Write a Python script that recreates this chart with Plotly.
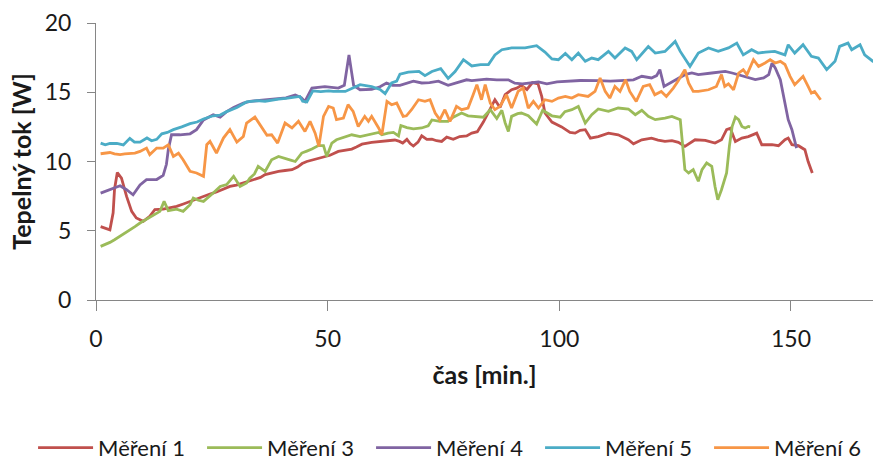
import plotly.graph_objects as go

# Heat flow measurements (time in minutes, heat flow in W)
names = ["Měření 1", "Měření 3", "Měření 4", "Měření 5", "Měření 6"]
colors = ["#C0504D", "#9BBB59", "#8064A2", "#4BACC6", "#F79646"]

t1 = [1.0, 2.0, 3.0, 3.7, 4.0, 4.6, 5.5, 6.6, 7.7, 8.7, 10.2, 11.6, 12.7, 14.5, 16.0, 17.4, 19.0, 20.3, 21.8, 23.2,
      24.6, 26.0, 27.5, 28.9, 30.3, 31.8, 33.2, 34.4, 35.5, 36.5, 38.0, 39.4, 40.8, 42.3, 43.5, 44.5, 45.5, 46.9, 48.0,
      49.8, 50.5, 52.3, 54.1, 55.2, 56.2, 57.4, 59.5, 61.3, 62.4, 64.5, 65.5, 66.2, 67.1, 67.8, 68.5, 69.5, 70.3, 71.4,
      72.5, 73.5, 74.6, 75.7, 77.1, 78.5, 80.0, 81.1, 82.3, 83.6, 85.0, 86.1, 87.2, 88.3, 89.7, 90.8, 91.8, 93.0, 94.2,
      95.4, 96.2, 96.9, 98.4, 100.5, 102.3, 103.4, 104.5, 105.6, 106.7, 108.4, 110.6, 112.7, 114.9, 116.0, 117.8,
      119.9, 121.3, 122.8, 124.3, 125.7, 127.1, 128.2, 129.3, 131.5, 133.6, 135.0, 136.1, 136.9, 138.0, 139.4, 140.8,
      142.6, 143.7, 145.9, 147.3, 148.7, 149.4, 150.2, 151.6, 153.0, 153.7, 154.6]
heat1 = [5.3, 5.2, 5.07, 6.3, 8.0, 9.2, 8.8, 7.48, 6.4, 5.92, 5.68, 6.04, 6.52, 6.56, 6.65, 6.76, 6.95, 7.12, 7.3, 7.48,
         7.65, 7.8, 8.0, 8.2, 8.3, 8.45, 8.6, 8.7, 8.85, 9.05, 9.2, 9.29, 9.35, 9.41, 9.6, 9.85, 10.0, 10.13, 10.25,
         10.37, 10.45, 10.73, 10.85, 10.9, 11.05, 11.25, 11.38, 11.45, 11.52, 11.55, 11.45, 11.33, 11.6, 11.3, 11.12,
         11.4, 11.86, 11.6, 11.62, 11.5, 11.45, 11.76, 11.6, 11.8, 11.85, 12.05, 12.15, 12.85, 13.74, 14.46, 13.9,
         14.82, 15.18, 15.3, 15.5, 15.2, 15.7, 15.6, 14.7, 13.5, 12.85, 12.5, 12.1, 12.05, 12.25, 12.3, 11.69, 11.8,
         12.05, 11.93, 11.57, 11.28, 11.57, 11.69, 11.55, 11.45, 11.5, 11.38, 11.09, 11.3, 11.57, 11.52, 11.33, 11.57,
         12.3, 12.4, 11.45, 11.69, 11.8, 12.05, 11.21, 11.21, 11.14, 11.57, 11.69, 11.21, 11.14, 10.85, 10.0, 9.17]

t3 = [1.0, 2.0, 3.0, 4.0, 5.2, 6.2, 7.3, 8.4, 9.5, 10.5, 11.6, 12.7, 13.8, 14.7, 15.6, 16.5, 17.4, 18.8, 20.3, 21.0,
      22.1, 23.2, 24.3, 25.3, 26.8, 28.2, 29.7, 31.1, 32.5, 33.2, 34.2, 35.0, 36.5, 37.9, 39.4, 40.8, 42.0, 43.0, 44.4,
      45.5, 46.6, 48.0, 49.1, 49.8, 50.9, 51.9, 53.1, 55.2, 57.0, 58.8, 61.0, 61.7, 63.0, 64.2, 65.3, 65.8, 67.1, 68.5,
      70.3, 71.7, 72.5, 74.2, 76.0, 77.1, 78.9, 80.3, 81.5, 83.6, 85.1, 86.5, 87.6, 88.3, 89.0, 89.7, 91.0, 91.8, 93.3,
      95.1, 96.4, 98.4, 100.2, 101.2, 102.7, 104.1, 105.6, 107.0, 108.4, 110.6, 112.7, 114.9, 116.4, 117.8, 119.2,
      120.7, 122.8, 124.3, 126.1, 126.6, 127.1, 127.9, 128.9, 130.0, 130.8, 131.8, 132.9, 133.6, 134.2, 135.0, 136.1,
      136.7, 137.3, 138.0, 138.7, 139.4, 140.1, 140.8, 141.2]
heat3 = [3.87, 4.0, 4.16, 4.35, 4.6, 4.85, 5.07, 5.3, 5.56, 5.75, 5.92, 6.15, 6.4, 7.12, 6.45, 6.5, 6.56, 6.4, 6.88,
         7.36, 7.2, 7.12, 7.4, 7.72, 8.2, 8.33, 8.93, 8.2, 8.45, 8.8, 9.1, 9.65, 9.29, 10.13, 10.37, 10.25, 10.1, 10.0,
         10.61, 10.75, 10.9, 11.15, 11.14, 10.37, 11.33, 11.57, 11.69, 11.93, 11.8, 11.93, 12.1, 11.93, 12.05, 12.1,
         11.85, 12.6, 12.45, 12.35, 12.42, 12.58, 13.0, 12.9, 12.9, 13.2, 13.5, 13.3, 13.26, 13.2, 13.74, 13.1, 13.7,
         12.8, 12.17, 13.26, 13.45, 13.5, 13.3, 12.7, 13.7, 13.3, 13.2, 13.6, 13.74, 13.98, 12.78, 13.38, 13.79, 13.62,
         13.86, 13.79, 13.38, 13.7, 13.26, 13.02, 13.14, 13.26, 13.02, 11.09, 9.41, 9.17, 9.41, 8.57, 9.41, 9.89, 9.65,
         8.2, 7.24, 7.96, 9.17, 11.09, 12.53, 13.21, 13.02, 12.53, 12.42, 12.53, 12.5]

t4 = [1.0, 2.0, 3.0, 4.0, 5.2, 6.6, 8.0, 9.5, 10.9, 13.1, 14.5, 15.2, 15.6, 16.3, 18.1, 20.3, 21.7, 23.2, 25.3, 26.8,
      28.2, 29.7, 31.8, 33.2, 35.0, 37.0, 39.4, 41.0, 43.0, 44.3, 45.1, 46.6, 49.4, 52.3, 53.6, 54.1, 54.6, 55.1, 55.6,
      57.0, 59.5, 61.3, 62.7, 64.0, 65.6, 68.5, 70.3, 72.0, 73.9, 76.0, 78.0, 80.0, 81.1, 84.3, 86.5, 89.0, 90.4, 92.0,
      95.5, 97.3, 99.5, 102.3, 104.5, 108.4, 111.0, 114.2, 116.0, 117.8, 119.9, 121.0, 121.7, 122.6, 124.0, 125.0,
      127.1, 128.6, 130.0, 132.9, 135.8, 137.3, 140.1, 142.3, 144.1, 145.2, 145.9, 146.6, 147.7, 148.7, 149.4, 150.2,
      151.2]
heat4 = [7.72, 7.85, 7.96, 8.1, 8.25, 7.96, 7.6, 8.3, 8.69, 8.7, 9.0, 9.8, 10.85, 11.93, 11.93, 12.0, 12.3, 13.0,
         13.38, 13.2, 13.6, 13.9, 14.22, 14.34, 14.4, 14.45, 14.5, 14.6, 14.8, 14.6, 14.34, 15.3, 15.4, 15.3, 15.5,
         16.6, 17.7, 16.6, 15.5, 15.18, 15.2, 15.4, 15.67, 15.5, 15.5, 15.8, 15.67, 15.7, 15.8, 15.5, 15.7, 15.9, 15.84,
         15.95, 15.9, 15.9, 15.65, 15.6, 15.74, 15.6, 15.75, 15.8, 15.85, 15.84, 15.8, 15.86, 15.9, 16.15, 16.03, 16.2,
         16.63, 15.42, 15.7, 15.9, 16.27, 16.39, 16.27, 16.39, 16.5, 16.39, 16.15, 15.91, 16.03, 16.27, 17.11, 16.75,
         15.91, 14.22, 13.02, 12.3, 10.97]

t5 = [1.0, 2.0, 3.0, 4.5, 5.9, 7.3, 8.3, 9.5, 11.0, 12.0, 13.1, 14.2, 15.4, 16.7, 18.5, 20.3, 21.8, 23.2, 25.3, 26.8,
      28.2, 30.4, 32.5, 34.7, 36.5, 38.0, 39.4, 41.0, 42.5, 44.0, 44.6, 45.5, 46.8, 48.5, 50.2, 51.2, 53.8, 55.5, 57.0,
      59.5, 61.3, 62.4, 63.8, 64.9, 65.6, 67.4, 69.7, 71.0, 72.5, 74.4, 76.0, 77.5, 79.3, 81.1, 83.0, 84.7, 86.1, 87.6,
      89.7, 92.6, 95.1, 96.9, 98.4, 99.8, 101.3, 102.7, 104.1, 105.6, 107.0, 108.4, 110.6, 112.0, 114.2, 115.6, 116.7,
      119.2, 120.7, 122.8, 125.0, 126.1, 128.2, 130.0, 132.2, 134.3, 136.5, 138.3, 139.7, 141.5, 142.9, 144.5, 146.5,
      148.7, 149.4, 150.8, 152.6, 154.4, 155.9, 157.7, 159.5, 160.5, 162.3, 163.1, 164.9, 165.9, 167.7, 169.0]
heat5 = [11.33, 11.2, 11.3, 11.3, 11.2, 11.67, 11.4, 11.4, 11.7, 11.5, 11.6, 12.0, 12.1, 12.3, 12.5, 12.73, 12.85,
         13.07, 13.3, 13.35, 13.6, 13.9, 14.3, 14.39, 14.35, 14.45, 14.5, 14.55, 14.6, 14.7, 14.35, 14.3, 15.1, 15.05,
         15.1, 15.06, 15.06, 15.3, 15.55, 15.4, 15.2, 14.9, 15.67, 15.8, 16.3, 16.45, 16.5, 16.2, 16.5, 16.7, 16.0,
         16.5, 17.35, 16.9, 17.0, 17.0, 17.7, 18.07, 18.2, 18.2, 18.36, 17.9, 17.4, 17.35, 17.8, 17.35, 17.83, 17.23,
         17.47, 17.35, 17.95, 17.47, 18.2, 17.95, 17.35, 18.3, 17.83, 17.95, 18.67, 17.95, 16.87, 17.83, 18.2, 17.95,
         18.2, 18.55, 17.7, 18.07, 17.83, 17.9, 17.95, 17.7, 18.43, 17.83, 18.43, 17.6, 17.47, 16.63, 17.23, 18.31,
         18.55, 18.07, 18.43, 17.7, 17.23, 17.1]

t6 = [1.0, 2.0, 3.0, 4.0, 5.2, 6.2, 7.3, 8.4, 9.5, 10.9, 11.6, 13.1, 14.5, 15.6, 16.7, 17.8, 18.8, 20.3, 21.7, 23.2,
      23.9, 24.6, 26.0, 27.5, 28.9, 30.4, 31.8, 32.5, 34.3, 35.8, 36.9, 37.9, 39.2, 40.8, 42.3, 43.7, 45.1, 46.2, 47.3,
      48.1, 49.1, 50.2, 51.2, 51.9, 53.4, 54.4, 55.5, 56.6, 58.0, 58.8, 59.5, 61.0, 61.7, 62.8, 63.8, 64.9, 66.3, 67.0,
      68.1, 69.6, 71.0, 72.1, 73.2, 74.2, 75.3, 76.4, 77.8, 78.9, 80.3, 81.4, 82.2, 83.2, 84.0, 85.1, 86.1, 87.2, 88.6,
      89.7, 91.1, 92.2, 93.3, 94.4, 95.5, 96.9, 98.4, 99.8, 101.3, 102.7, 104.1, 106.2, 107.7, 108.8, 109.9, 110.9,
      112.0, 113.1, 114.3, 115.2, 116.6, 118.1, 119.5, 120.6, 122.0, 123.1, 124.6, 125.6, 126.5, 127.1, 127.9, 128.9,
      130.0, 132.2, 133.9, 135.0, 135.7, 136.5, 137.6, 138.7, 139.7, 140.5, 141.9, 143.0, 144.4, 145.5, 146.6, 147.7,
      148.7, 149.8, 150.8, 151.9, 152.6, 153.7, 154.4, 155.1, 155.9, 156.4]
heat6 = [10.56, 10.6, 10.65, 10.55, 10.5, 10.55, 10.56, 10.6, 10.73, 10.97, 10.5, 10.97, 10.97, 11.21, 10.37, 10.6,
         10.13, 9.29, 9.17, 8.93, 11.21, 11.45, 10.61, 11.69, 12.3, 11.4, 11.81, 12.78, 13.21, 12.42, 11.9, 11.93,
         11.33, 12.78, 12.42, 12.9, 12.17, 12.9, 12.05, 11.09, 13.26, 13.98, 13.86, 13.02, 13.14, 14.1, 13.62, 12.53,
         13.26, 12.9, 13.26, 12.42, 11.93, 14.34, 14.1, 14.22, 13.26, 13.3, 13.74, 14.46, 14.34, 14.46, 13.5, 13.02,
         13.74, 12.9, 13.98, 13.74, 13.86, 14.82, 15.55, 14.46, 15.55, 14.22, 13.74, 13.98, 14.82, 13.86, 15.06, 15.3,
         13.86, 14.34, 13.86, 14.46, 14.34, 14.58, 14.7, 14.58, 14.82, 14.7, 15.06, 16.03, 15.06, 14.58, 15.42, 15.06,
         15.91, 15.06, 14.34, 15.42, 15.55, 14.82, 15.06, 14.7, 15.3, 15.79, 16.27, 16.63, 15.67, 15.06, 15.06, 15.18,
         15.42, 16.27, 15.42, 15.6, 15.18, 16.39, 16.63, 16.27, 17.35, 16.87, 17.11, 17.35, 17.11, 17.23, 17.0, 16.15,
         15.55, 15.91, 16.15, 15.42, 14.94, 15.06, 14.7, 14.46]

times = [t1, t3, t4, t5, t6]
values = [heat1, heat3, heat4, heat5, heat6]

x_ticks = [0, 50, 100, 150]
y_ticks = [0, 5, 10, 15, 20]

FONT = "Lato"
TEXT = "#1a1a1a"
AXIS = "#868686"

fig = go.Figure()
for name, color, tx, vy in zip(names, colors, times, values):
    fig.add_trace(go.Scatter(x=tx, y=vy, mode="lines", name=name,
                             line=dict(color=color, width=2.8)))

fig.update_layout(
    width=873, height=460,
    margin=dict(l=96, r=0, t=23, b=160, autoexpand=False),
    paper_bgcolor="white", plot_bgcolor="white",
    font=dict(family=FONT, size=22, color=TEXT),
    showlegend=True,
    legend=dict(orientation="h", x=-0.081, xanchor="left", y=-0.534, yanchor="middle",
                font=dict(family=FONT, size=22, color=TEXT),
                entrywidth=99, entrywidthmode="pixels", itemwidth=55,
                tracegroupgap=0, bgcolor="rgba(0,0,0,0)"),
)

fig.update_xaxes(
    range=[0, 167.7], tickvals=x_ticks, ticks="outside", ticklen=10, tickcolor=AXIS,
    showline=True, linecolor=AXIS, linewidth=1, showgrid=False, zeroline=False,
    tickfont=dict(family=FONT, size=23, color=TEXT), ticklabelstandoff=8,
    title=dict(text="<b>čas [min.]</b>", font=dict(family=FONT, size=25, color=TEXT), standoff=15),
)
fig.update_yaxes(
    range=[0, 20], tickvals=y_ticks, ticks="outside", ticklen=8, tickcolor=AXIS,
    showline=True, linecolor=AXIS, linewidth=1, showgrid=False, zeroline=False,
    tickfont=dict(family=FONT, size=23, color=TEXT), ticklabelstandoff=11,
    title=dict(text="<b>Tepelný tok [W]</b>", font=dict(family=FONT, size=25, color=TEXT), standoff=5),
)

fig.write_html("out.html")
